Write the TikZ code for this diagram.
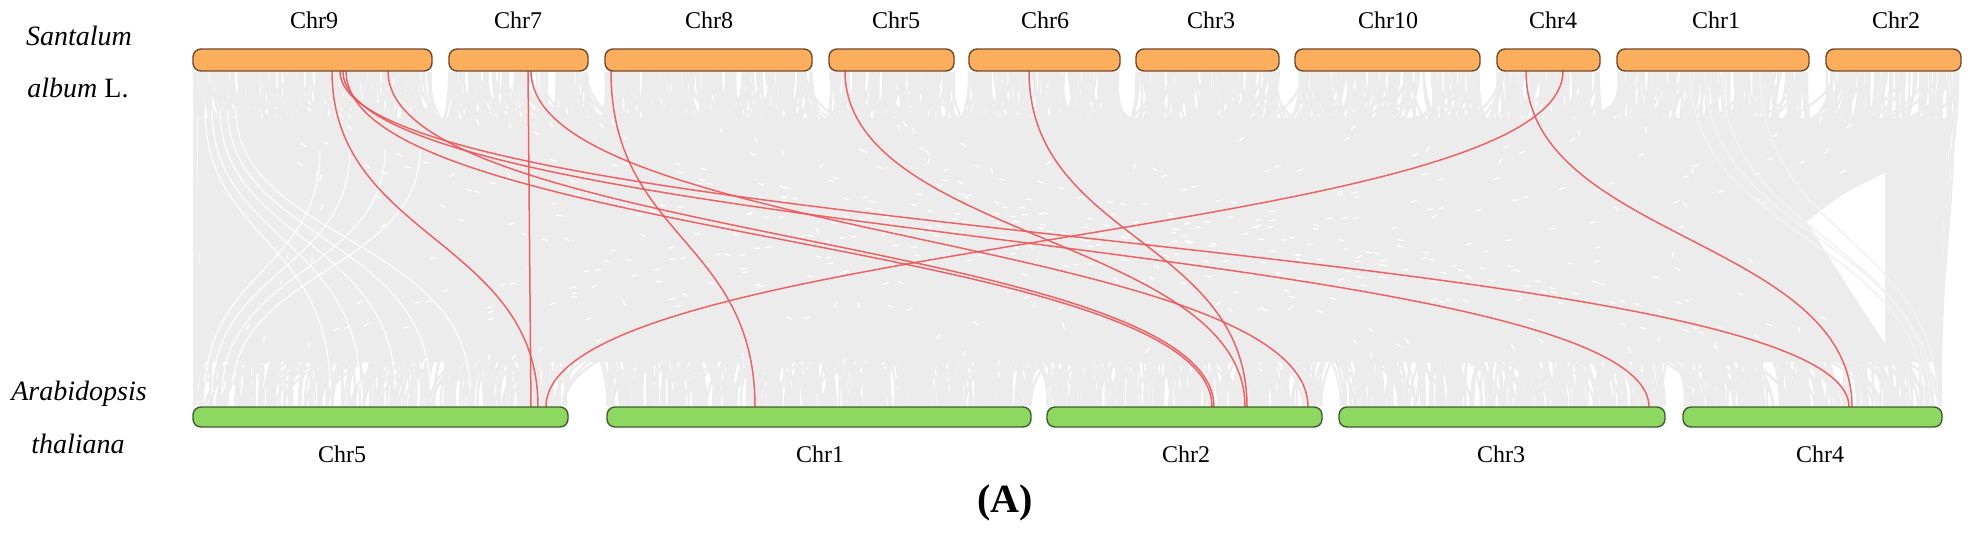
\documentclass[tikz,border=0pt]{standalone}
\usepackage{fontspec}
\setmainfont{Liberation Serif}
\usetikzlibrary{calc}
\definecolor{barorange}{RGB}{253,174,92}
\definecolor{barorangeline}{RGB}{110,72,44}
\definecolor{bargreen}{RGB}{140,216,96}
\definecolor{bargreenline}{RGB}{62,92,46}
\definecolor{linkgray}{RGB}{236,236,236}
\definecolor{lightlink}{RGB}{242,242,242}
\definecolor{linkred}{RGB}{238,84,88}
\newcommand{\syntlink}[2]{\draw[redlink] (#1) .. controls ($(#1)+(0,168)$) and ($(#2)+(0,-168)$) .. (#2);}
\begin{document}
\begin{tikzpicture}[x=0.5pt,y=-0.5pt,
  topbar/.style={draw=barorangeline, fill=barorange, line width=0.7pt, rounded corners=4pt, minimum height=11pt, inner sep=0pt, outer sep=0pt},
  botbar/.style={draw=bargreenline, fill=bargreen, line width=0.7pt, rounded corners=4pt, minimum height=10pt, inner sep=0pt, outer sep=0pt},
  chrlabel/.style={font=\fontsize{12}{14}\selectfont, inner sep=0pt, anchor=base},
  species/.style={font=\fontsize{14}{16}\selectfont, inner sep=0pt, anchor=base},
  graylink/.style={draw=linkgray, line width=1.2pt},
  whitestreak/.style={draw=white, line width=0.6pt, dash pattern=on 3pt off 40pt},
  lightline/.style={draw=white, line width=0.7pt, draw opacity=0.75},
  redlink/.style={draw=linkred, line width=0.75pt, draw opacity=0.9},
]
\useasboundingbox (0,0) rectangle (1974,541);

% base of the collinearity background
\fill[linkgray] (200,118) -- (1950,118) .. controls (1945,200) and (1938,300) .. (1938,362) -- (200,362) -- cycle;

% gray collinear links
\pgfmathsetseed{7}
\foreach \i in {1,...,1500}{
  \pgfmathsetmacro{\r}{1618.5*rnd}
  \pgfmathsetmacro{\xa}{193+\r+17*(\r>=239)+17*(\r>=378)+17*(\r>=585)+15*(\r>=710)+16*(\r>=861)+16*(\r>=1004)+17*(\r>=1189)+17*(\r>=1292)+17*(\r>=1484)}
  \pgfmathsetmacro{\qq}{ifthenelse(rnd<0.65, \r*1.0247+350*rand, 1659*rnd)}
  \pgfmathsetmacro{\q}{min(max(\qq,1.5),1657.5)}
  \pgfmathsetmacro{\xb}{193+\q+39*(\q>=375)+16*(\q>=799)+17*(\q>=1074)+18*(\q>=1400)}
  \draw[graylink] (\xa,72) .. controls (\xa,239) and (\xb,239) .. (\xb,406);
}
% light streaks
\foreach \i in {1,...,60}{
  \pgfmathsetmacro{\xa}{230+1700*rnd}
  \pgfmathsetmacro{\xb}{230+1680*rnd}
  \pgfmathsetmacro{\ph}{40*rnd}
  \draw[whitestreak, dash phase=\ph pt] (\xa,110) .. controls (\xa,239) and (\xb,239) .. (\xb,370);
}
% lighter threads on the left
\foreach \xa/\xb in {205/330,212/360,220/395,228/430,236/470}{
  \draw[lightline] (\xa,110) .. controls (\xa,239) and (\xb,239) .. (\xb,390);
}
\foreach \xa/\xb in {320/205,350/212,385/222,420/232}{
  \draw[lightline] (\xa,150) .. controls (\xa,270) and (\xb,270) .. (\xb,395);
}
% white gap on the right
\fill[white] (1807,222) .. controls (1840,195) .. (1885,173) -- (1885,343) .. controls (1850,290) .. cycle;
\foreach \xa/\xb in {1690/1925,1705/1934,1722/1930,1760/1938}{
  \draw[draw=lightlink, line width=0.8pt] (\xa,72) .. controls (\xa,239) and (\xb,239) .. (\xb,406);
}

% link end points
\coordinate (s9a) at (332,71);
\coordinate (s9b) at (340,71);
\coordinate (s9c) at (343,71);
\coordinate (s9d) at (346,71);
\coordinate (s9e) at (388,71);
\coordinate (s7a) at (528,71);
\coordinate (s7b) at (531,71);
\coordinate (s8a) at (611,71);
\coordinate (s5a) at (845,71);
\coordinate (s6a) at (1029,71);
\coordinate (s4a) at (1526,71);
\coordinate (s4b) at (1563,71);
\coordinate (a5a) at (531,407);
\coordinate (a5b) at (538,407);
\coordinate (a5c) at (546,407);
\coordinate (a1a) at (755,407);
\coordinate (a2a) at (1212,407);
\coordinate (a2b) at (1214,407);
\coordinate (a2c) at (1245,407);
\coordinate (a2d) at (1247,407);
\coordinate (a2e) at (1308,407);
\coordinate (a3a) at (1649,407);
\coordinate (a4a) at (1849,407);
\coordinate (a4b) at (1852,407);

% red links
\syntlink{s9a}{a5b}
\syntlink{s9b}{a4a}
\syntlink{s9c}{a3a}
\syntlink{s9d}{a2a}
\syntlink{s9e}{a2b}
\draw[redlink] (s7a) -- (a5a);
\syntlink{s7b}{a2e}
\syntlink{s8a}{a1a}
\syntlink{s5a}{a2c}
\syntlink{s6a}{a2d}
\syntlink{s4a}{a4b}
\syntlink{s4b}{a5c}

% Santalum chromosomes
\node[topbar, minimum width=119.5pt] (sChr9) at (312.5,60) {};
\node[topbar, minimum width=69.5pt] (sChr7) at (518.5,60) {};
\node[topbar, minimum width=103.5pt] (sChr8) at (708.5,60) {};
\node[topbar, minimum width=62.5pt] (sChr5) at (891.5,60) {};
\node[topbar, minimum width=75.5pt] (sChr6) at (1044.5,60) {};
\node[topbar, minimum width=71.5pt] (sChr3) at (1207.5,60) {};
\node[topbar, minimum width=92.5pt] (sChr10) at (1387.5,60) {};
\node[topbar, minimum width=51.5pt] (sChr4) at (1548.5,60) {};
\node[topbar, minimum width=96pt] (sChr1) at (1713,60) {};
\node[topbar, minimum width=67.5pt] (sChr2) at (1893.5,60) {};

\node[chrlabel] (lsChr9) at (314,28) {Chr9};
\node[chrlabel] (lsChr7) at (518,28) {Chr7};
\node[chrlabel] (lsChr8) at (709,28) {Chr8};
\node[chrlabel] (lsChr5) at (896,28) {Chr5};
\node[chrlabel] (lsChr6) at (1045,28) {Chr6};
\node[chrlabel] (lsChr3) at (1211,28) {Chr3};
\node[chrlabel] (lsChr10) at (1388,28) {Chr10};
\node[chrlabel] (lsChr4) at (1553,28) {Chr4};
\node[chrlabel] (lsChr1) at (1716,28) {Chr1};
\node[chrlabel] (lsChr2) at (1896,28) {Chr2};

% Arabidopsis chromosomes
\node[botbar, minimum width=187.5pt] (aChr5) at (380.5,417) {};
\node[botbar, minimum width=212pt] (aChr1) at (819,417) {};
\node[botbar, minimum width=137.5pt] (aChr2) at (1184.5,417) {};
\node[botbar, minimum width=163pt] (aChr3) at (1502,417) {};
\node[botbar, minimum width=129.5pt] (aChr4) at (1812.5,417) {};

\node[chrlabel] (laChr5) at (342,462) {Chr5};
\node[chrlabel] (laChr1) at (820,462) {Chr1};
\node[chrlabel] (laChr2) at (1186,462) {Chr2};
\node[chrlabel] (laChr3) at (1501,462) {Chr3};
\node[chrlabel] (laChr4) at (1820,462) {Chr4};

% species names
\node[species] (sp1) at (79,45) {\itshape Santalum};
\node[species] (sp2) at (78,97) {\textit{album} L.};
\node[species] (sp3) at (79,400) {\itshape Arabidopsis};
\node[species] (sp4) at (78,453) {\itshape thaliana};

% panel label
\node[font=\fontsize{20}{24}\selectfont\bfseries, inner sep=0pt, anchor=base] (panel) at (1005,512) {(A)};
\end{tikzpicture}
\end{document}
